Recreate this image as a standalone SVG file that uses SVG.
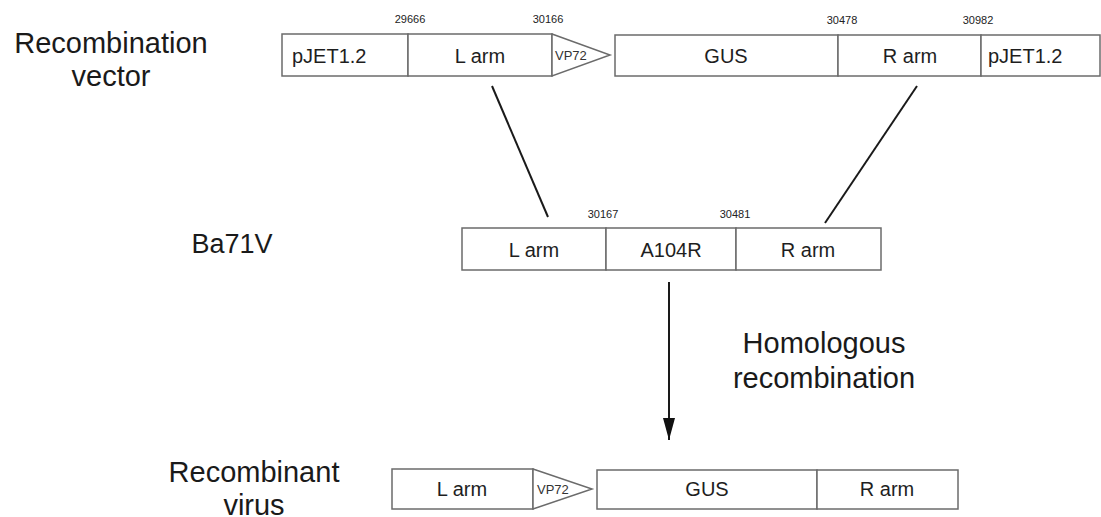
<svg xmlns="http://www.w3.org/2000/svg" width="1101" height="517" viewBox="0 0 1101 517">
<defs>
<style>
.box{fill:#fff;stroke:#6b6b6b;stroke-width:1.5}
.bt{font-family:"Liberation Sans",Arial,sans-serif;font-size:20px;fill:#1e1e1e;text-anchor:middle}
.vp{font-family:"Liberation Sans",Arial,sans-serif;font-size:13px;fill:#333}
.num{font-family:"Liberation Sans",Arial,sans-serif;font-size:11px;fill:#222;text-anchor:middle}
.lbl{font-family:"Liberation Sans",Arial,sans-serif;font-size:29px;fill:#1a1a1a;text-anchor:middle}
.ln{stroke:#1a1a1a;stroke-width:2;fill:none}
</style>
<marker id="ah" viewBox="0 0 22 12" refX="22" refY="6" markerWidth="22" markerHeight="12" markerUnits="userSpaceOnUse" orient="auto">
<path d="M0,0 L22,6 L0,12 Z" fill="#111"/>
</marker>
</defs>
<rect width="1101" height="517" fill="#fff"/>
<g id="labels">
<text class="lbl" x="111" y="53">Recombination</text>
<text class="lbl" x="111" y="86">vector</text>
<text class="lbl" x="232" y="253" style="font-size:27px">Ba71V</text>
<text class="lbl" x="254" y="482">Recombinant</text>
<text class="lbl" x="254" y="515">virus</text>
<text class="lbl" x="824" y="353">Homologous</text>
<text class="lbl" x="824" y="388">recombination</text>
</g>
<g id="vector">
<rect class="box" x="282" y="34" width="126" height="42"/>
<text class="bt" x="292" y="63" style="text-anchor:start">pJET1.2</text>
<rect class="box" x="408" y="34" width="144" height="42"/>
<text class="bt" x="480" y="63">L arm</text>
<polygon class="box" points="552,34 610,55 552,76"/>
<text class="vp" x="555" y="60">VP72</text>
<rect class="box" x="615" y="35" width="223" height="41"/>
<text class="bt" x="726" y="63">GUS</text>
<rect class="box" x="838" y="35" width="143" height="41"/>
<text class="bt" x="910" y="63">R arm</text>
<rect class="box" x="981" y="35" width="119" height="41"/>
<text class="bt" x="988" y="63" style="text-anchor:start">pJET1.2</text>
<text class="num" x="410" y="23">29666</text>
<text class="num" x="548" y="23">30166</text>
<text class="num" x="842" y="24">30478</text>
<text class="num" x="978" y="24">30982</text>
</g>
<g id="ba71v">
<rect class="box" x="462" y="228" width="144" height="42"/>
<text class="bt" x="534" y="257">L arm</text>
<rect class="box" x="606" y="228" width="130" height="42"/>
<text class="bt" x="671" y="257">A104R</text>
<rect class="box" x="736" y="228" width="145" height="42"/>
<text class="bt" x="808" y="257">R arm</text>
<text class="num" x="603" y="218">30167</text>
<text class="num" x="735" y="218">30481</text>
</g>
<g id="recombinant">
<rect class="box" x="392" y="469" width="141" height="40"/>
<text class="bt" x="462" y="496">L arm</text>
<polygon class="box" points="533,469 592,489 533,509"/>
<text class="vp" x="537" y="494">VP72</text>
<rect class="box" x="597" y="470" width="220" height="39"/>
<text class="bt" x="707" y="496">GUS</text>
<rect class="box" x="817" y="470" width="141" height="39"/>
<text class="bt" x="887" y="496">R arm</text>
</g>
<g id="connectors">
<line class="ln" x1="492" y1="86" x2="548" y2="217"/>
<line class="ln" x1="917" y1="86" x2="825" y2="223"/>
<line class="ln" x1="669" y1="282" x2="669" y2="440" marker-end="url(#ah)"/>
</g>
</svg>
